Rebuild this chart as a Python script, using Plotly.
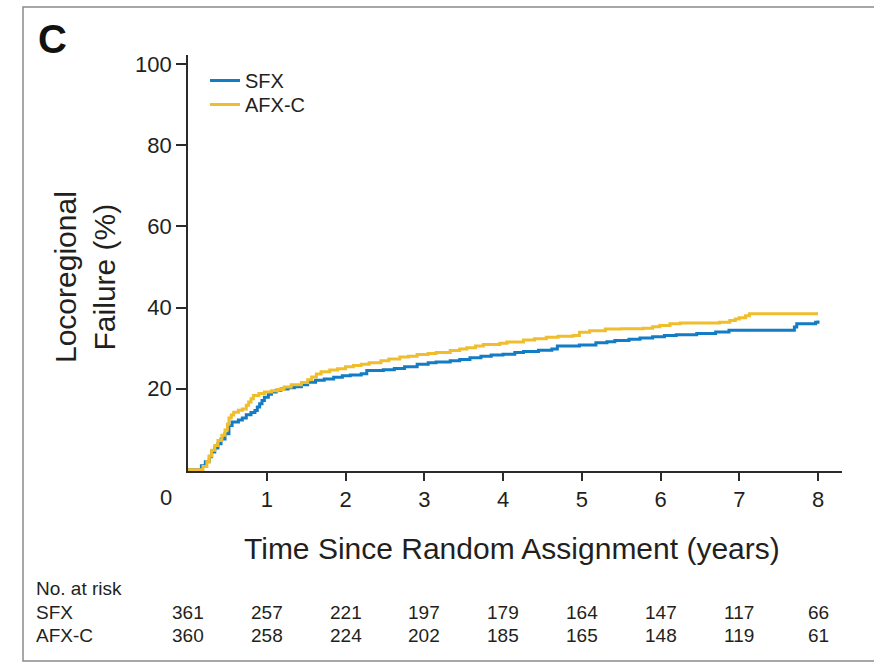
import plotly.graph_objects as go

# ---- data ----
sfx_t = [0, 0.17, 0.22, 0.27, 0.30, 0.34, 0.38, 0.42, 0.47, 0.52, 0.56, 0.64, 0.69, 0.74, 0.80, 0.85,
         0.88, 0.91, 0.94, 0.97, 1.02, 1.06, 1.12, 1.18, 1.27, 1.35, 1.44, 1.52, 1.62, 1.73, 1.85, 1.96,
         2.06, 2.20, 2.27, 2.48, 2.62, 2.75, 2.91, 3.05, 3.15, 3.33, 3.45, 3.58, 3.72, 3.85, 4.00, 4.15,
         4.26, 4.45, 4.62, 4.69, 4.97, 5.18, 5.32, 5.42, 5.60, 5.74, 5.90, 6.05, 6.20, 6.46, 6.70, 6.87,
         7.70, 7.73, 7.97, 8.00]
sfx_v = [0, 1.0, 2.0, 3.2, 4.4, 5.4, 6.4, 7.6, 8.9, 10.9, 11.8, 12.3, 12.8, 13.6, 14.1, 14.6,
         15.5, 16.3, 17.1, 17.9, 18.6, 19.2, 19.6, 19.9, 20.2, 20.5, 21.0, 21.6, 22.1, 22.4, 22.8, 23.2,
         23.4, 23.7, 24.5, 24.7, 25.0, 25.4, 26.0, 26.4, 26.6, 26.9, 27.2, 27.6, 28.0, 28.3, 28.5, 28.9,
         29.2, 29.5, 29.8, 30.5, 30.8, 31.3, 31.6, 31.9, 32.2, 32.5, 32.8, 33.1, 33.3, 33.6, 34.0, 34.4,
         35.2, 36.0, 36.4, 36.8]

afx_t = [0, 0.19, 0.24, 0.27, 0.30, 0.34, 0.38, 0.43, 0.47, 0.50, 0.52, 0.55, 0.58, 0.64, 0.69, 0.74,
         0.77, 0.80, 0.83, 0.90, 0.97, 1.06, 1.14, 1.22, 1.31, 1.44, 1.52, 1.57, 1.63, 1.69, 1.80, 1.90,
         2.00, 2.10, 2.20, 2.30, 2.45, 2.55, 2.69, 2.80, 2.91, 3.05, 3.15, 3.33, 3.45, 3.54, 3.65, 3.75,
         3.96, 4.05, 4.26, 4.40, 4.55, 4.70, 4.89, 4.97, 5.10, 5.30, 5.50, 5.78, 5.90, 5.99, 6.12, 6.25,
         6.75, 6.88, 6.95, 7.00, 7.08, 7.13, 8.00]
afx_v = [0, 0.8, 2.0, 3.4, 4.8, 6.0, 7.2, 8.5, 9.8, 11.2, 12.8, 13.5, 14.2, 14.7, 15.0, 15.9,
         16.7, 17.5, 18.3, 18.8, 19.2, 19.5, 19.8, 20.4, 21.0, 21.5, 22.2, 22.9, 23.6, 24.2, 24.6, 24.9,
         25.4, 25.7, 26.0, 26.4, 26.9, 27.3, 27.8, 28.0, 28.4, 28.7, 28.9, 29.4, 29.8, 30.1, 30.5, 30.9,
         31.2, 31.5, 32.0, 32.3, 32.7, 32.9, 33.1, 33.9, 34.3, 34.7, 34.8, 34.9, 35.3, 35.6, 36.0, 36.2,
         36.4, 36.8, 37.2, 37.5, 38.0, 38.5, 38.5]

x_ticks = [1, 2, 3, 4, 5, 6, 7, 8]
y_ticks = [20, 40, 60, 80, 100]
risk_times = [0, 1, 2, 3, 4, 5, 6, 7, 8]
risk_sfx = [361, 257, 221, 197, 179, 164, 147, 117, 66]
risk_afx = [360, 258, 224, 202, 185, 165, 148, 119, 61]

BLUE = "#127cc5"
YELLOW = "#f0bd2c"
AXIS = "#2b2b2b"
TXT = "#231f20"
FONT = "Liberation Sans, Arial, sans-serif"

L, R, T, B = 188, 32, 55, 193
W, H = 874, 664
pw, ph = W - L - R, H - T - B
xr = [0, pw / 78.75]
yr = [-0.3, -0.3 + ph / 4.055]

def py(pix):  # pixel row -> paper y
    return (H - B - pix) / ph

def px(pix):  # pixel col -> paper x
    return (pix - L) / pw

fig = go.Figure()
fig.add_trace(go.Scatter(x=sfx_t, y=sfx_v, mode="lines", line=dict(color=BLUE, width=3, shape="hv"),
                         name="SFX", legend="legend"))
fig.add_trace(go.Scatter(x=afx_t, y=afx_v, mode="lines", line=dict(color=YELLOW, width=3, shape="hv"),
                         name="AFX-C", legend="legend2"))

leg_common = dict(xanchor="left", yanchor="top", font=dict(size=20, family=FONT, color=TXT),
                  itemwidth=30, bgcolor="rgba(0,0,0,0)")

fig.update_layout(
    width=W, height=H,
    margin=dict(l=L, r=R, t=T, b=B),
    paper_bgcolor="white", plot_bgcolor="white",
    font=dict(family=FONT, color=TXT),
    showlegend=True,
    legend=dict(x=px(205), y=py(61), **leg_common),
    legend2=dict(x=px(205), y=py(85), **leg_common),
    xaxis=dict(range=xr, tickvals=x_ticks, ticktext=[str(v) for v in x_ticks],
               showgrid=False, zeroline=False, showline=True, linecolor=AXIS, linewidth=1.6,
               ticks="outside", ticklen=8, tickwidth=1.6, tickcolor=AXIS,
               tickfont=dict(size=22, family=FONT, color=TXT)),
    yaxis=dict(range=yr, tickvals=y_ticks, ticktext=[str(v) for v in y_ticks],
               showgrid=False, zeroline=False, showline=True, linecolor=AXIS, linewidth=1.6,
               ticks="outside", ticklen=10, tickwidth=1.6, tickcolor=AXIS,
               tickfont=dict(size=22, family=FONT, color=TXT)),
)

ann = []
ann.append(dict(text="<b>C</b>", x=px(36), y=py(39), xref="paper", yref="paper",
                xanchor="left", yanchor="middle", showarrow=False,
                font=dict(size=40, family=FONT, color="#111")))
ann.append(dict(text="0", x=px(166), y=py(497), xref="paper", yref="paper",
                xanchor="center", yanchor="middle", showarrow=False,
                font=dict(size=22, family=FONT, color=TXT)))
ann.append(dict(text="Time Since Random Assignment (years)", x=px(512), y=py(548),
                xref="paper", yref="paper", xanchor="center", yanchor="middle", showarrow=False,
                font=dict(size=30, family=FONT, color=TXT)))
ann.append(dict(text="Locoregional<br>Failure (%)", x=px(85), y=py(277),
                xref="paper", yref="paper", xanchor="center", yanchor="middle", showarrow=False,
                textangle=-90, font=dict(size=30, family=FONT, color=TXT)))
ann.append(dict(text="No. at risk", x=px(34), y=py(588), xref="paper", yref="paper",
                xanchor="left", yanchor="middle", showarrow=False,
                font=dict(size=19, family=FONT, color=TXT)))
for label, row, vals in [("SFX", 612, risk_sfx), ("AFX-C", 635, risk_afx)]:
    ann.append(dict(text=label, x=px(34), y=py(row), xref="paper", yref="paper",
                    xanchor="left", yanchor="middle", showarrow=False,
                    font=dict(size=19, family=FONT, color=TXT)))
    for t, v in zip(risk_times, vals):
        ann.append(dict(text=str(v), x=t, y=py(row), xref="x", yref="paper",
                        xanchor="center", yanchor="middle", showarrow=False,
                        font=dict(size=19, family=FONT, color=TXT)))
fig.update_layout(annotations=ann)

fig.add_shape(type="rect", xref="paper", yref="paper",
              x0=px(23), x1=px(900), y0=py(661), y1=py(7),
              line=dict(color="#8a8a8a", width=1.5), fillcolor="rgba(0,0,0,0)", layer="below")

fig.write_html("out.html")
